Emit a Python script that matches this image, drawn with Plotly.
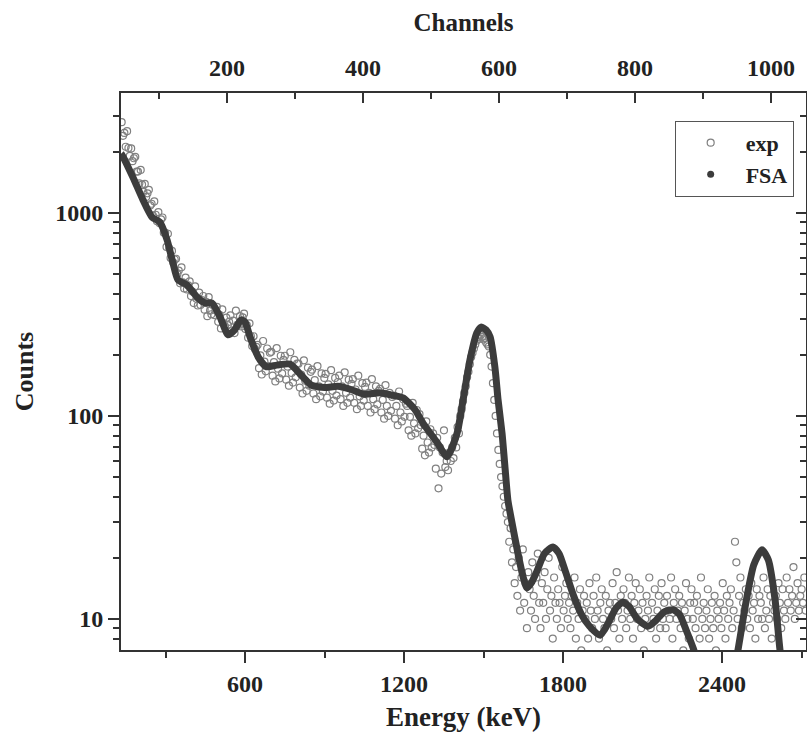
import numpy as np
import plotly.graph_objects as go

# energy calibration (keV = gain * channel + offset)
cal_gain = 2.566
cal_offset = 19.0

# experimental spectrum: one value every 2 channels, starting at channel 45
exp_first_channel = 45
exp_channel_step = 2
exp_counts = [
    2800, 2400, 2480, 2120, 2530, 2090, 1910, 2080, 1800, 1860,
    1890, 1600, 1600, 1400, 1630, 1380, 1270, 1390, 1200, 1250,
    1300, 1090, 1110, 970, 1140, 980, 910, 1010, 890, 930,
    950, 800, 800, 680, 790, 670, 600, 650, 570, 590,
    595, 500, 520, 450, 540, 455, 425, 480, 420, 440,
    460, 390, 410, 360, 435, 378, 350, 405, 352, 372,
    390, 334, 365, 310, 385, 330, 317, 352, 314, 332,
    345, 291, 315, 270, 335, 286, 276, 305, 280, 291,
    313, 263, 295, 256, 330, 281, 281, 310, 276, 306,
    319, 268, 280, 243, 286, 247, 221, 247, 214, 219,
    224, 172, 199, 160, 234, 185, 166, 215, 176, 205,
    207, 158, 184, 148, 216, 171, 153, 198, 162, 189,
    198, 151, 175, 141, 206, 163, 146, 189, 155, 181,
    181, 138, 160, 129, 188, 149, 133, 173, 141, 165,
    169, 129, 150, 121, 176, 140, 125, 162, 132, 154,
    161, 123, 143, 115, 168, 133, 119, 154, 126, 147,
    158, 121, 140, 112, 164, 130, 116, 151, 123, 144,
    152, 116, 135, 108, 158, 125, 112, 145, 119, 139,
    146, 112, 130, 104, 152, 121, 108, 140, 114, 133,
    136, 104, 120, 97, 142, 112, 100, 130, 106, 124,
    126, 97, 112, 90, 132, 104, 94, 121, 99, 115,
    112, 85, 99, 80, 116, 92, 82, 107, 87, 102,
    90, 69, 80, 64, 94, 74, 66, 86, 70, 82,
    72, 55, 78, 44, 70, 52, 66, 85, 56, 60,
    54, 66, 60, 70, 62, 78, 70, 88, 82, 100,
    108, 118, 130, 140, 155, 165, 180, 195, 205, 215,
    225, 235, 245, 240, 250, 245, 238, 242, 230, 225,
    220, 200, 175, 145, 120, 100, 82, 68, 58, 50,
    45, 40, 36, 33, 30, 24, 28, 19, 22, 15,
    18, 13, 20, 11, 16, 22, 12, 15, 9, 17,
    14, 11, 19, 13, 10, 16, 21, 12, 9, 15,
    12, 17, 10, 14, 20, 11, 13, 8, 16, 12,
    10, 14, 12, 9, 18, 11, 13, 15, 10, 12,
    9, 13, 11, 16, 8, 12, 10, 14, 7, 11,
    13, 10, 12, 8, 15, 11, 9, 13, 10, 16,
    11, 8, 12, 14, 10, 9, 13, 7, 11, 12,
    10, 15, 9, 12, 17, 11, 8, 13, 10, 14,
    12, 9, 11, 16, 10, 13, 8, 12, 15, 10,
    11, 14, 9, 12, 7, 10, 13, 11, 16, 9,
    12, 10, 14, 8, 11, 13, 9, 15, 10, 12,
    9, 13, 11, 10, 16, 8, 12, 14, 10, 11,
    13, 9, 12, 7, 11, 15, 10, 8, 12, 14,
    10, 12, 9, 13, 11, 8, 16, 10, 12, 9,
    11, 14, 8, 10, 12, 9, 13, 7, 11, 10,
    12, 9, 15, 11, 8, 13, 10, 12, 14, 9,
    11, 24, 19, 10, 13, 16, 9, 12, 11, 14,
    10, 13, 9, 15, 11, 12, 8, 14, 10, 13,
    12, 10, 16, 9, 11, 14, 10, 13, 8, 12,
    11, 13, 10, 15, 12, 9, 14, 11, 10, 16,
    12, 14, 11, 13, 18, 10, 12, 15, 11, 13,
    14, 12, 16, 11,
]

# FSA fit read at its turning points (keV, counts)
fsa_energy = [
    132, 136, 177, 215, 249, 279, 306, 328, 347, 381,
    419, 449, 475, 506, 536, 560, 585, 600, 619, 650,
    680, 720, 770, 810, 850, 900, 950, 1000, 1050, 1109,
    1150, 1196, 1240, 1272, 1325, 1362, 1400, 1423, 1449, 1475,
    1491, 1510, 1525, 1543, 1555, 1570, 1581, 1592, 1604, 1630,
    1650, 1664, 1680, 1700, 1730, 1762, 1785, 1810, 1840, 1870,
    1900, 1940, 1970, 2000, 2026, 2050, 2080, 2121, 2150, 2180,
    2215, 2240, 2265, 2291, 2320, 2360, 2400, 2430, 2460, 2490,
    2520, 2551, 2575, 2600, 2619, 2640, 2680, 2717,
]
fsa_counts = [
    1960, 1930, 1500, 1160, 955, 900, 736, 567, 468, 442,
    385, 360, 360, 307, 251, 265, 297, 290, 245, 195,
    175, 178, 180, 160, 142, 138, 140, 135, 128, 130,
    127, 123, 108, 92, 74, 63, 82, 120, 189, 257,
    274, 265, 245, 174, 120, 82, 56, 38.5, 31.5, 21,
    16, 14.2, 15, 17, 21, 22.6, 21, 17, 13, 10.5,
    9.2, 8.3, 9.5, 11.3, 12.1, 11.5, 10, 9.2, 9.8, 10.8,
    11.1, 10.5, 8.8, 7.2, 5.5, 4, 3.5, 4.5, 7.0, 12,
    18.5, 21.9, 19.5, 12.5, 7.0, 4.5, 3, 2.5,
]

energy_range = [132, 2717]
counts_range = [7.03, 3900]

exp_channels = np.arange(len(exp_counts)) * exp_channel_step + exp_first_channel
exp_energy = cal_gain * exp_channels + cal_offset
channel_range = [(e - cal_offset) / cal_gain for e in energy_range]
log_range = [float(np.log10(v)) for v in counts_range]

FONT = "Liberation Serif"
AX = "#333333"
FSA_COLOR = "#3c3c3c"
EXP_COLOR = "#808080"

fig = go.Figure()
fig.add_trace(go.Scatter(
    x=exp_energy, y=exp_counts, mode="markers", name="exp",
    marker=dict(symbol="circle-open", size=7, color=EXP_COLOR, line=dict(width=1.2)),
))
fig.add_trace(go.Scatter(
    x=fsa_energy, y=fsa_counts, mode="lines", name="FSA", showlegend=False,
    line=dict(color=FSA_COLOR, width=7, shape="spline", smoothing=0.6),
))
fig.add_trace(go.Scatter(
    x=[None], y=[None], mode="markers", name="FSA",
    marker=dict(symbol="circle", size=7, color=FSA_COLOR),
))
fig.add_trace(go.Scatter(
    x=channel_range, y=[10, 10], xaxis="x2", yaxis="y2", mode="markers",
    marker=dict(opacity=0), showlegend=False, hoverinfo="skip",
))

tickfont = dict(family=FONT, size=24, color="#222222", weight="bold")
common = dict(showline=True, linewidth=2, linecolor=AX, showgrid=False, zeroline=False,
              tickcolor=AX, tickwidth=2, tickfont=tickfont)

def tfont(size):
    return dict(family=FONT, size=size, color="#222222", weight="bold")

fig.update_layout(
    width=807, height=743,
    margin=dict(l=121, r=1, t=93, b=93),
    paper_bgcolor="white", plot_bgcolor="white",
    xaxis=dict(range=energy_range, tick0=0, dtick=600, ticks="outside", ticklen=11,
               minor=dict(tick0=0, dtick=300, ticks="outside", ticklen=6, tickcolor=AX, tickwidth=2),
               title=dict(text="Energy (keV)", font=tfont(27), standoff=11), **common),
    xaxis2=dict(range=channel_range, overlaying="x", side="top", anchor="y",
                tick0=0, dtick=200, ticks="inside", ticklen=10, ticklabelstandoff=5,
                minor=dict(tick0=0, dtick=100, ticks="inside", ticklen=6, tickcolor=AX, tickwidth=2),
                title=dict(text="Channels", font=tfont(25), standoff=17), **common),
    yaxis=dict(type="log", range=log_range, tickvals=[10, 100, 1000], ticktext=["10", "100", "1000"],
               ticks="outside", ticklen=11,
               minor=dict(dtick="D1", ticks="outside", ticklen=6, tickcolor=AX, tickwidth=2),
               title=dict(text="Counts", font=tfont(26), standoff=14), **common),
    yaxis2=dict(type="log", range=log_range, overlaying="y", side="right", anchor="x",
                tickvals=[10, 100, 1000], showticklabels=False, ticks="inside", ticklen=10,
                minor=dict(dtick="D1", ticks="inside", ticklen=6, tickcolor=AX, tickwidth=2),
                showline=True, linewidth=2, linecolor=AX, showgrid=False, zeroline=False,
                tickcolor=AX, tickwidth=2),
    legend=dict(x=0.982, xanchor="right", y=0.95, yanchor="top",
                bordercolor="#555555", borderwidth=1, bgcolor="white", itemwidth=60,
                font=dict(family=FONT, size=22, color="#222222", weight="bold")),
    showlegend=True,
)

fig.write_html("out.html")
